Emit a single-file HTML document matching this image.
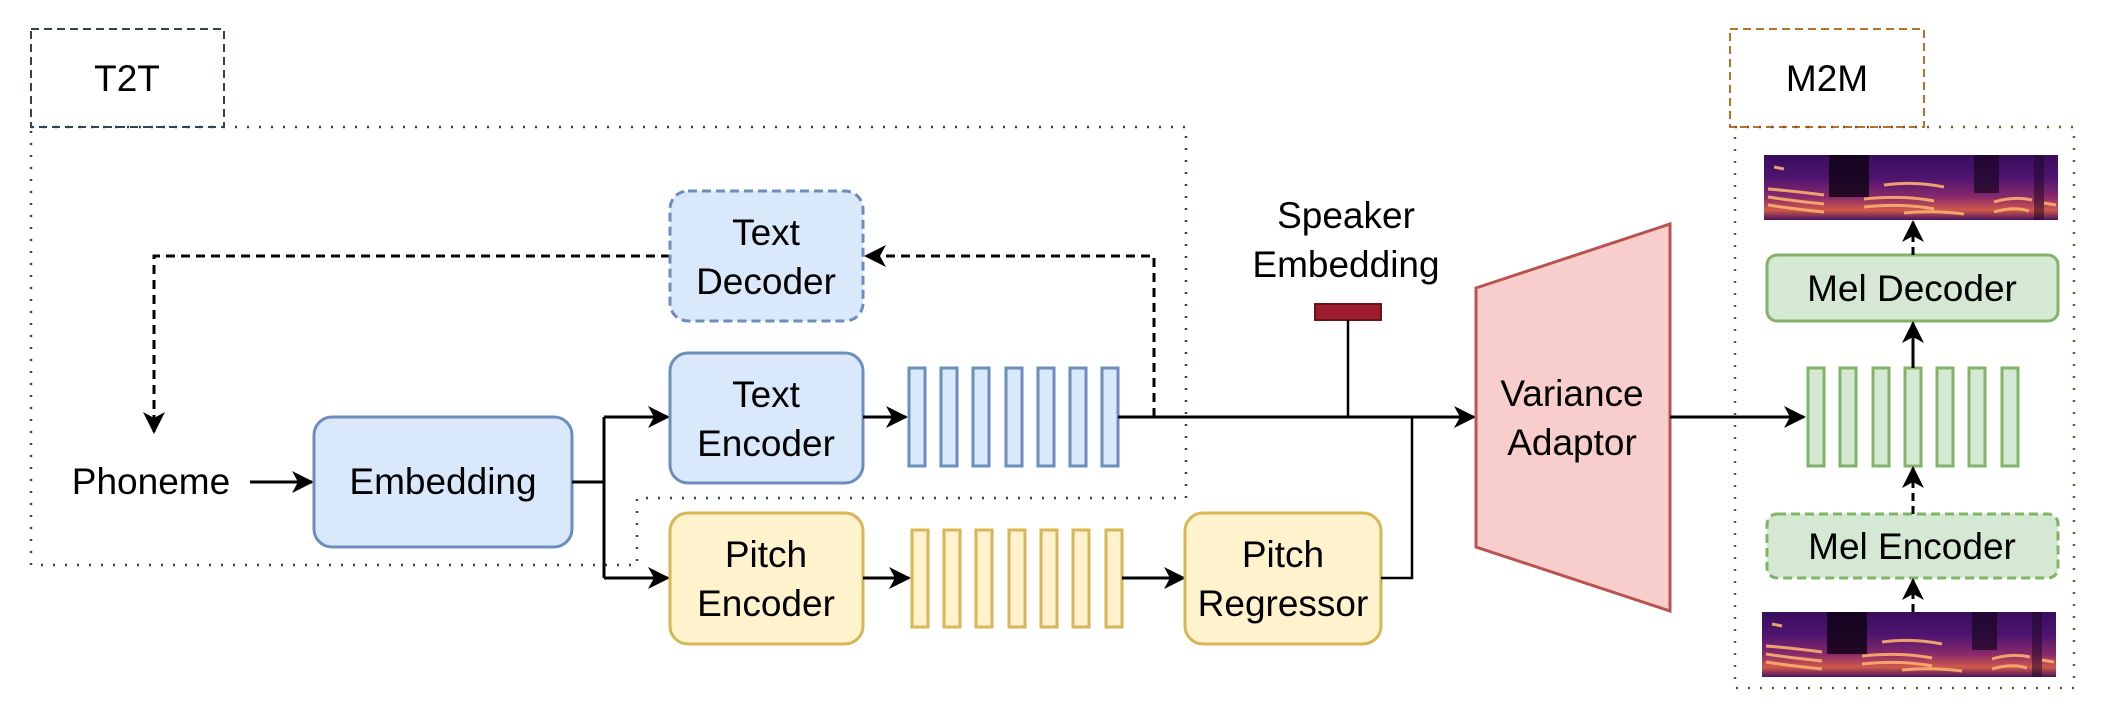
<!DOCTYPE html>
<html><head><meta charset="utf-8"><style>
html,body{margin:0;padding:0;background:#fff;}
svg{display:block;}
text{font-family:"Liberation Sans",sans-serif;font-size:37px;fill:#000;}
</style></head><body>
<svg width="2106" height="706" viewBox="0 0 2106 706" xmlns="http://www.w3.org/2000/svg">
<defs>
<marker id="ab" markerWidth="22" markerHeight="22" refX="20" refY="11" orient="auto" markerUnits="userSpaceOnUse">
<path d="M0,0 L22,11 L0,22 L6,11 Z" fill="#000"/>
</marker>
<linearGradient id="sg" x1="0" y1="0" x2="0" y2="1">
<stop offset="0" stop-color="#3a0d5c"/>
<stop offset="0.35" stop-color="#4e1470"/>
<stop offset="0.65" stop-color="#8a2a6a"/>
<stop offset="0.85" stop-color="#d0584a"/>
<stop offset="1" stop-color="#4a1260"/>
</linearGradient>
<g id="spec">
<rect x="0" y="0" width="294" height="65" fill="url(#sg)"/>
<rect x="65" y="0" width="40" height="42" fill="#120418" opacity="0.85"/>
<rect x="210" y="0" width="25" height="38" fill="#1a0622" opacity="0.7"/>
<rect x="270" y="0" width="10" height="65" fill="#1a0622" opacity="0.5"/>
<g stroke="#f9b070" stroke-width="3" fill="none" opacity="0.9">
<path d="M4,50 Q30,54 60,57"/><path d="M4,42 Q30,46 60,49"/><path d="M4,34 Q30,36 60,40"/>
<path d="M100,52 Q140,48 170,54"/><path d="M100,44 Q140,40 170,46"/>
<path d="M140,58 Q170,55 200,59"/><path d="M230,57 Q250,51 265,56"/>
<path d="M120,30 Q150,26 180,32"/><path d="M280,48 L292,50"/>
<path d="M230,47 Q250,41 268,45"/><path d="M10,12 L20,14"/>
</g>
</g>
</defs>

<rect x="31" y="29" width="193" height="98" fill="none" stroke="#314354" stroke-width="2" stroke-dasharray="8,5"/>
<text x="127" y="91" text-anchor="middle">T2T</text>
<path d="M31,127 L1186,127 L1186,498 L637,498 L637,565 L31,565 Z" fill="none" stroke="#314354" stroke-width="2.5" stroke-dasharray="2,10"/>

<rect x="1730" y="29" width="194" height="98" fill="none" stroke="#B5732A" stroke-width="2" stroke-dasharray="8,5"/>
<text x="1827" y="91" text-anchor="middle">M2M</text>
<rect x="1735" y="127" width="339" height="561" fill="none" stroke="#8B4A2A" stroke-width="2.5" stroke-dasharray="2,10"/>

<path d="M1154,417 L1154,256 L866,256" fill="none" stroke="#000" stroke-width="3" stroke-dasharray="9,6" marker-end="url(#ab)"/>
<path d="M670,256 L154,256 L154,432" fill="none" stroke="#000" stroke-width="3" stroke-dasharray="9,6" marker-end="url(#ab)"/>

<rect x="670" y="191" width="193" height="130" rx="18" fill="#dae8fc" stroke="#6c8ebf" stroke-width="3" stroke-dasharray="9,5"/>
<text x="766" y="245" text-anchor="middle">Text</text>
<text x="766" y="294" text-anchor="middle">Decoder</text>

<text x="151" y="494" text-anchor="middle">Phoneme</text>
<path d="M250,482 L312,482" stroke="#000" stroke-width="3" marker-end="url(#ab)"/>

<rect x="314" y="417" width="258" height="130" rx="18" fill="#dae8fc" stroke="#6c8ebf" stroke-width="3"/>
<text x="443" y="494" text-anchor="middle">Embedding</text>

<path d="M572,482 L604,482 M604,417 L604,578" stroke="#000" stroke-width="3" fill="none"/>
<path d="M604,417 L668,417" stroke="#000" stroke-width="3" marker-end="url(#ab)"/>
<path d="M604,578 L668,578" stroke="#000" stroke-width="3" marker-end="url(#ab)"/>

<rect x="670" y="353" width="193" height="130" rx="18" fill="#dae8fc" stroke="#6c8ebf" stroke-width="3"/>
<text x="766" y="407" text-anchor="middle">Text</text>
<text x="766" y="456" text-anchor="middle">Encoder</text>
<path d="M863,417 L906,417" stroke="#000" stroke-width="3" marker-end="url(#ab)"/>

<g fill="#dae8fc" stroke="#6c8ebf" stroke-width="3">
<rect x="909" y="368" width="16" height="98"/><rect x="941" y="368" width="16" height="98"/>
<rect x="973" y="368" width="16" height="98"/><rect x="1006" y="368" width="16" height="98"/>
<rect x="1038" y="368" width="16" height="98"/><rect x="1070" y="368" width="16" height="98"/>
<rect x="1102" y="368" width="16" height="98"/>
</g>

<rect x="670" y="513" width="193" height="131" rx="18" fill="#fff2cc" stroke="#d6b656" stroke-width="3"/>
<text x="766" y="567" text-anchor="middle">Pitch</text>
<text x="766" y="616" text-anchor="middle">Encoder</text>
<path d="M863,578 L909,578" stroke="#000" stroke-width="3" marker-end="url(#ab)"/>

<g fill="#fff2cc" stroke="#d6b656" stroke-width="3">
<rect x="912" y="530" width="16" height="97"/><rect x="944" y="530" width="16" height="97"/>
<rect x="976" y="530" width="16" height="97"/><rect x="1009" y="530" width="16" height="97"/>
<rect x="1041" y="530" width="16" height="97"/><rect x="1073" y="530" width="16" height="97"/>
<rect x="1106" y="530" width="16" height="97"/>
</g>
<path d="M1122,578 L1184,578" stroke="#000" stroke-width="3" marker-end="url(#ab)"/>

<rect x="1185" y="513" width="196" height="131" rx="18" fill="#fff2cc" stroke="#d6b656" stroke-width="3"/>
<text x="1283" y="567" text-anchor="middle">Pitch</text>
<text x="1283" y="616" text-anchor="middle">Regressor</text>
<path d="M1381,578 L1412,578 L1412,417" stroke="#000" stroke-width="2.5" fill="none"/>

<path d="M1118,417 L1474,417" stroke="#000" stroke-width="3" marker-end="url(#ab)"/>

<text x="1346" y="228" text-anchor="middle">Speaker</text>
<text x="1346" y="277" text-anchor="middle">Embedding</text>
<rect x="1315" y="304" width="66" height="16" fill="#9b1c2c" stroke="#6e1018" stroke-width="2"/>
<path d="M1348,320 L1348,417" stroke="#000" stroke-width="2.5"/>

<path d="M1476,288 L1670,224 L1670,611 L1476,547 Z" fill="#f8cecc" stroke="#b85450" stroke-width="3"/>
<text x="1572" y="406" text-anchor="middle">Variance</text>
<text x="1572" y="455" text-anchor="middle">Adaptor</text>
<path d="M1670,417 L1804,417" stroke="#000" stroke-width="3" marker-end="url(#ab)"/>

<g fill="#d5e8d4" stroke="#82b366" stroke-width="3">
<rect x="1808" y="368" width="16" height="98"/><rect x="1840" y="368" width="16" height="98"/>
<rect x="1873" y="368" width="16" height="98"/><rect x="1905" y="368" width="16" height="98"/>
<rect x="1937" y="368" width="16" height="98"/><rect x="1969" y="368" width="16" height="98"/>
<rect x="2002" y="368" width="16" height="98"/>
</g>

<rect x="1767" y="255" width="291" height="66" rx="10" fill="#d5e8d4" stroke="#82b366" stroke-width="3"/>
<text x="1912" y="301" text-anchor="middle">Mel Decoder</text>
<rect x="1767" y="514" width="291" height="64" rx="10" fill="#d5e8d4" stroke="#82b366" stroke-width="3" stroke-dasharray="9,5"/>
<text x="1912" y="559" text-anchor="middle">Mel Encoder</text>

<use href="#spec" x="1764" y="155"/>
<use href="#spec" x="1762" y="612"/>

<path d="M1913,612 L1913,580" stroke="#000" stroke-width="3" stroke-dasharray="8,5" marker-end="url(#ab)"/>
<path d="M1913,514 L1913,468" stroke="#000" stroke-width="3" stroke-dasharray="8,5" marker-end="url(#ab)"/>
<path d="M1913,368 L1913,323" stroke="#000" stroke-width="3" marker-end="url(#ab)"/>
<path d="M1913,255 L1913,222" stroke="#000" stroke-width="3" stroke-dasharray="8,5" marker-end="url(#ab)"/>
</svg>
</body></html>
